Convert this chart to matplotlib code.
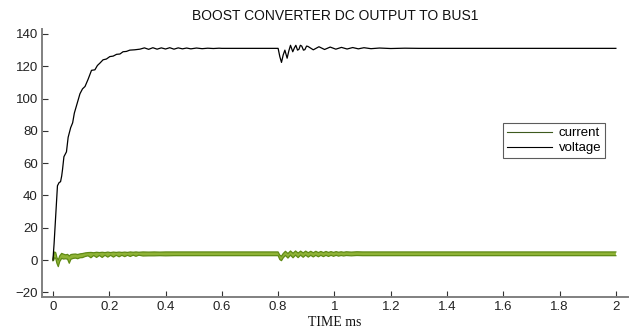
import matplotlib
matplotlib.use("Agg")
import matplotlib.pyplot as plt

# DC bus voltage (V) versus time (ms)
t_volt = [0.000, 0.004, 0.007, 0.010, 0.013, 0.016, 0.022, 0.027, 0.031, 0.034,
          0.039, 0.048, 0.054, 0.063, 0.070, 0.076, 0.086, 0.096, 0.105, 0.114,
          0.125, 0.137, 0.149, 0.158, 0.167, 0.178, 0.190, 0.202, 0.214, 0.226,
          0.238, 0.249, 0.261, 0.273, 0.290, 0.309, 0.325, 0.340, 0.355, 0.370,
          0.385, 0.400, 0.415, 0.430, 0.445, 0.460, 0.475, 0.490, 0.510, 0.530,
          0.550, 0.570, 0.590, 0.600, 0.700, 0.800, 0.806, 0.812, 0.818, 0.824,
          0.832, 0.838, 0.844, 0.852, 0.858, 0.863, 0.869, 0.874, 0.879, 0.884,
          0.890, 0.895, 0.901, 0.906, 0.925, 0.945, 0.965, 0.985, 1.005, 1.025,
          1.045, 1.065, 1.085, 1.105, 1.130, 1.160, 1.200, 1.250, 1.300, 1.420,
          1.600, 1.800, 2.000]
voltage = [0.0, 10.0, 19.0, 28.0, 37.0, 46.0, 48.0, 48.5, 52.0, 56.0,
           64.0, 67.0, 76.0, 82.0, 85.0, 91.0, 97.0, 103.0, 106.0, 107.5,
           112.0, 117.5, 117.8, 120.5, 122.0, 124.0, 124.5, 126.0, 126.3, 127.4,
           127.6, 129.0, 129.2, 130.0, 130.2, 130.6, 131.4, 130.5, 131.5, 130.6,
           131.4, 130.7, 131.5, 130.6, 131.4, 130.8, 131.3, 130.8, 131.3, 130.9,
           131.2, 131.0, 131.2, 131.1, 131.1, 131.1, 126.0, 122.4, 127.0, 130.0,
           125.0, 129.5, 133.0, 129.0, 131.5, 133.0, 130.0, 130.5, 133.0, 132.5,
           130.0, 130.3, 132.5, 132.3, 130.2, 132.1, 130.4, 131.9, 130.6, 131.7,
           130.7, 131.6, 130.8, 131.5, 130.9, 131.3, 131.0, 131.2, 131.1, 131.1,
           131.1, 131.1, 131.1]

# Output current (A): upper and lower edges of the ripple band
t_curr = [0.000, 0.003, 0.006, 0.010, 0.014, 0.019, 0.024, 0.031, 0.038, 0.045,
          0.052, 0.058, 0.064, 0.072, 0.080, 0.088, 0.096, 0.105, 0.115, 0.125,
          0.135, 0.145, 0.155, 0.165, 0.175, 0.185, 0.195, 0.205, 0.215, 0.225,
          0.235, 0.245, 0.255, 0.265, 0.275, 0.285, 0.295, 0.305, 0.320, 0.340,
          0.360, 0.380, 0.400, 0.430, 0.460, 0.500, 0.600, 0.700, 0.795, 0.800,
          0.806, 0.812, 0.818, 0.826, 0.835, 0.844, 0.853, 0.862, 0.871, 0.880,
          0.889, 0.898, 0.907, 0.916, 0.925, 0.934, 0.943, 0.952, 0.961, 0.970,
          0.979, 0.988, 0.997, 1.006, 1.015, 1.024, 1.033, 1.042, 1.060, 1.080,
          1.100, 1.130, 1.160, 1.200, 1.400, 1.700, 2.000]
curr_hi = [0.5, 3.0, 5.0, 4.5, 1.5, 0.0, 2.5, 4.1, 3.6, 3.2,
           3.5, 2.5, 3.4, 3.6, 3.7, 3.4, 3.8, 4.0, 4.4, 4.6,
           4.7, 4.5, 4.8, 4.6, 4.8, 4.6, 4.9, 4.6, 4.9, 4.7,
           4.9, 4.7, 4.9, 4.7, 5.0, 4.8, 5.0, 4.8, 5.0, 4.9,
           5.0, 4.9, 5.0, 5.0, 5.0, 5.0, 5.0, 5.0, 5.0, 5.0,
           3.0, 2.4, 4.0, 5.4, 4.0, 5.6, 4.2, 5.6, 4.3, 5.5,
           4.4, 5.5, 4.5, 5.4, 4.5, 5.4, 4.6, 5.3, 4.6, 5.3,
           4.7, 5.2, 4.7, 5.2, 4.8, 5.1, 4.8, 5.1, 4.9, 5.1,
           5.0, 5.0, 5.0, 5.0, 5.0, 5.0, 5.0]
curr_lo = [-0.5, 0.0, 1.5, 1.0, -2.0, -4.1, -1.0, 1.0, 0.6, 0.8,
           0.5, -2.0, 0.5, 1.0, 1.2, 0.8, 1.4, 1.5, 2.2, 2.6,
           1.4, 2.8, 1.6, 2.8, 1.6, 2.9, 1.8, 2.9, 1.8, 2.9,
           2.0, 2.9, 2.1, 2.9, 2.2, 3.0, 2.3, 3.0, 2.5, 2.6,
           2.6, 2.7, 2.6, 2.7, 2.7, 2.7, 2.7, 2.7, 2.7, 2.7,
           0.3, -0.4, 1.3, 2.8, 1.2, 3.0, 1.4, 3.0, 1.5, 3.0,
           1.7, 3.0, 1.8, 2.9, 1.9, 2.9, 2.0, 2.9, 2.1, 2.9,
           2.2, 2.9, 2.3, 2.9, 2.4, 2.8, 2.5, 2.8, 2.6, 2.8,
           2.7, 2.7, 2.7, 2.7, 2.7, 2.7, 2.7]

x_ticks = [0, 0.2, 0.4, 0.6, 0.8, 1, 1.2, 1.4, 1.6, 1.8, 2]
x_tick_labels = ["0", "0.2", "0.4", "0.6", "0.8", "1", "1.2", "1.4", "1.6", "1.8", "2"]
y_ticks = [-20, 0, 20, 40, 60, 80, 100, 120, 140]

plt.rcParams["font.family"] = ["Liberation Sans", "DejaVu Sans"]

fig = plt.figure(figsize=(6.34, 3.29), dpi=100)
ax = fig.add_axes([0.0662, 0.0973, 0.9243, 0.8146])

green_face = "#8fb336"
green_edge = "#5f8a14"

ax.fill_between(t_curr, curr_lo, curr_hi, facecolor=green_face, edgecolor="none", zorder=2)
ax.plot(t_curr, curr_hi, color=green_edge, lw=0.9, zorder=3)
ax.plot(t_curr, curr_lo, color=green_edge, lw=0.9, zorder=3)
ax.plot(t_volt, voltage, color="black", lw=0.9, zorder=4)

# legend proxies
ax.plot([], [], color="#3d5a1e", lw=0.8, label="current")
ax.plot([], [], color="black", lw=0.8, label="voltage")
leg = ax.legend(loc="upper right", bbox_to_anchor=(0.961, 0.649), borderaxespad=0,
                fontsize=9.5, handlelength=3.4, handletextpad=0.5,
                fancybox=False, frameon=True, borderpad=0.3, labelspacing=0.2)
leg.get_frame().set_edgecolor("#333333")
leg.get_frame().set_linewidth(0.8)

ax.set_xlim(-0.039, 2.043)
ax.set_ylim(-22.9, 143.1)
ax.set_xticks(x_ticks)
ax.set_xticklabels(x_tick_labels)
ax.set_yticks(y_ticks)

for side in ("top", "right"):
    ax.spines[side].set_visible(False)
for side in ("left", "bottom"):
    ax.spines[side].set_color("#808080")
    ax.spines[side].set_linewidth(1.4)

ax.tick_params(direction="in", length=4, width=0.8, color="#333333",
               labelsize=9.5, labelcolor="#222222", pad=3)

ax.set_title("BOOST CONVERTER DC OUTPUT TO BUS1", fontsize=10, color="#111111", pad=6.5)
ax.set_xlabel("TIME ms", fontsize=10, family=["Liberation Serif", "DejaVu Serif"],
              color="#111111", labelpad=2)

fig.savefig("out.png", dpi=100)
